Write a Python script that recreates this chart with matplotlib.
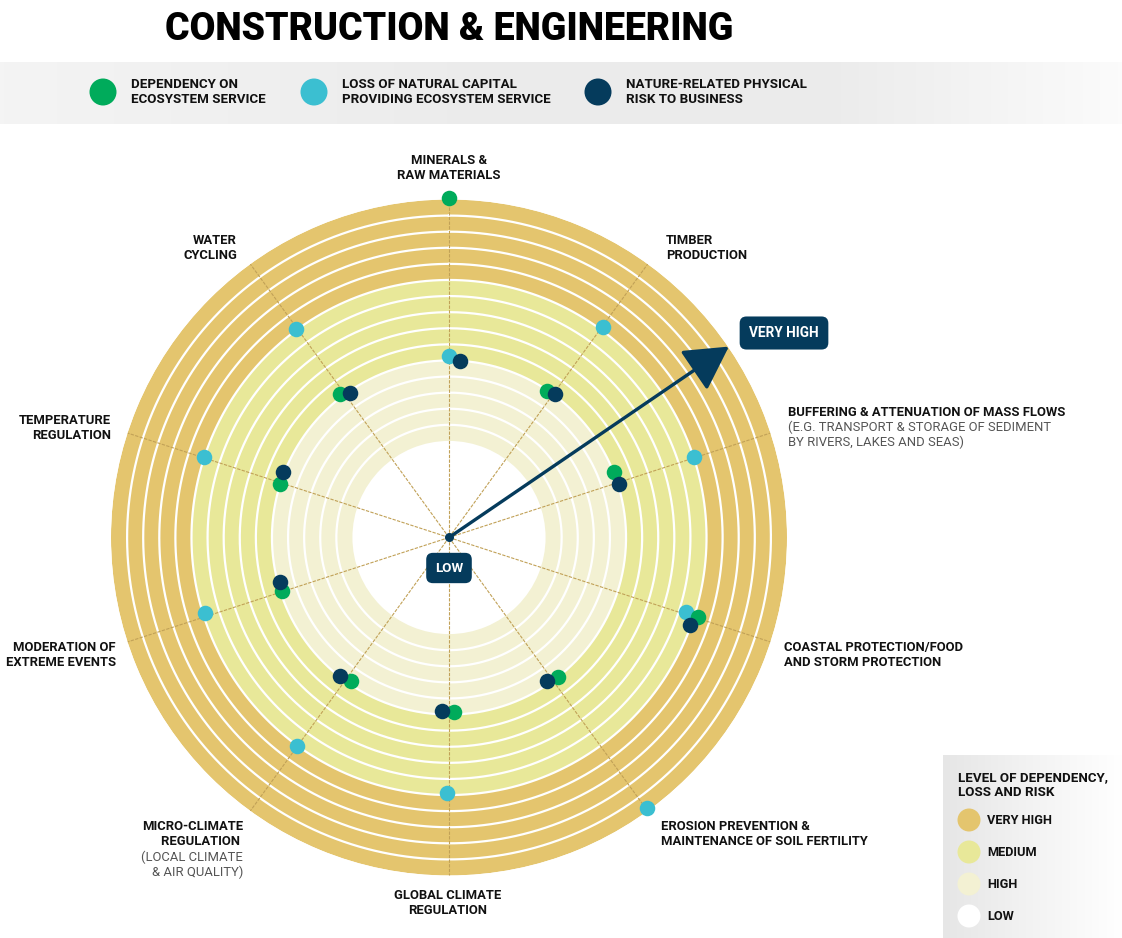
import numpy as np
import matplotlib
matplotlib.use("Agg")
import matplotlib.pyplot as plt
from matplotlib.colors import LinearSegmentedColormap
from matplotlib.patches import Circle

plt.rcParams['font.family'] = ['Roboto', 'DejaVu Sans']

W, H = 1122, 938

# services, clockwise from the top
categories = ["MINERALS & RAW MATERIALS", "TIMBER PRODUCTION",
              "BUFFERING & ATTENUATION OF MASS FLOWS", "COASTAL PROTECTION",
              "EROSION PREVENTION", "GLOBAL CLIMATE REGULATION",
              "MICRO-CLIMATE REGULATION", "MODERATION OF EXTREME EVENTS",
              "TEMPERATURE REGULATION", "WATER CYCLING"]

# level on a 0..21 ring scale (6 = edge of LOW, 21 = outer edge)
dependency = [21.1, 10.95, 11.0, 16.25, 11.0, 10.85, 10.8, 10.9, 11.0, 11.2]
loss = [11.26, 16.2, 16.0, 15.46, 20.8, 15.9, 16.0, 15.9, 16.0, 16.1]
risk = [11.0, 11.1, 11.08, 15.9, 10.8, 10.8, 10.94, 10.83, 11.1, 10.9]
# small angular nudges (deg) so overlapping dots stay visible
dependency_nudge = [0, -2.1, -3.7, -0.4, -1.9, -1.5, -1.6, 0.3, -0.4, -1.1]
loss_nudge = [-0.1, 0.3, -0.2, -0.5, -0.2, 0.5, 0.1, 0.8, 0.1, -0.3]
risk_nudge = [3.6, 0.5, 0.4, 1.9, 1.6, 2.4, 2.2, 3.3, 3.4, 1.7]

# zones: (inner, outer, colour)
zone_names = ["VERY HIGH", "MEDIUM", "HIGH", "LOW"]
zone_edges = [(16, 21), (11, 16), (6, 11), (0, 6)]
zone_colors = ["#e4c56e", "#e8e899", "#f3f1d3", "#ffffff"]

GREEN, CYAN, NAVY = "#00ab5b", "#3bbfd1", "#053b5c"
SPOKE = "#c1a157"

fig = plt.figure(figsize=(W / 100, H / 100), dpi=100)

# ---- polar chart
cx, cy, R = 449, 537.5, 338
ax = fig.add_axes([(cx - R) / W, 1 - (cy + R) / H, 2 * R / W, 2 * R / H],
                  projection='polar', zorder=2)
ax.set_theta_zero_location('N')
ax.set_theta_direction(-1)
ax.set_ylim(0, 21)
ax.axis('off')

for (r0, r1), c in zip(zone_edges[:3], zone_colors[:3]):
    ax.bar(0, r1 - r0, width=2 * np.pi, bottom=r0, color=c, linewidth=0, zorder=1)

tt = np.linspace(0, 2 * np.pi, 500)
for r in range(7, 21):
    ax.plot(tt, np.full_like(tt, r), color='white', lw=1.6, zorder=2)

angles = np.deg2rad(np.arange(len(categories)) * 36)
for a in angles:
    ax.plot([a, a], [0, 21], color=SPOKE, lw=0.8, ls=(0, (3, 1.2)), zorder=3)

for vals, nud, col in [(loss, loss_nudge, CYAN),
                       (dependency, dependency_nudge, GREEN),
                       (risk, risk_nudge, NAVY)]:
    th = angles + np.deg2rad(nud)
    ax.scatter(th, vals, s=125, color=col, linewidths=0, zorder=5, clip_on=False)

ax.annotate("", xy=(np.deg2rad(55.7), 21.05), xytext=(0, 0),
            arrowprops=dict(arrowstyle="-|>,head_length=1.35,head_width=0.75",
                            mutation_scale=20, color=NAVY, lw=2.4,
                            shrinkA=0, shrinkB=0), zorder=6,
            annotation_clip=False)
ax.scatter([0], [0], s=30, color=NAVY, zorder=7)

# ---- top banner
grad_cmap = LinearSegmentedColormap.from_list(
    "band", [(0, "#f4f4f4"), (0.45, "#ebebeb"), (0.75, "#ececec"), (1, "#fbfbfb")])
bx = fig.add_axes([0, 1 - 124 / H, 1, 62 / H], zorder=0)
bx.imshow(np.linspace(0, 1, 256)[None, :], cmap=grad_cmap, aspect='auto',
          extent=[0, 1, 0, 1])
bx.axis('off')

# ---- level legend box
lg_cmap = LinearSegmentedColormap.from_list("lg", ["#e6e6e6", "#f3f3f3", "#ffffff"])
lx = fig.add_axes([943 / W, 0, (W - 943) / W, (H - 755) / H], zorder=0)
lx.imshow(np.linspace(0, 1, 256)[None, :], cmap=lg_cmap, aspect='auto',
          extent=[0, 1, 0, 1])
lx.axis('off')

# ---- overlay for texts and legend markers
ov = fig.add_axes([0, 0, 1, 1], zorder=4)
ov.set_xlim(0, W)
ov.set_ylim(H, 0)
ov.axis('off')

ov.text(449, 30, "CONSTRUCTION & ENGINEERING", ha='center', va='center',
        fontsize=27, fontweight='black', color='black')

series_legend = [("DEPENDENCY ON\nECOSYSTEM SERVICE", GREEN, 103),
                 ("LOSS OF NATURAL CAPITAL\nPROVIDING ECOSYSTEM SERVICE", CYAN, 314),
                 ("NATURE-RELATED PHYSICAL\nRISK TO BUSINESS", NAVY, 598)]
for lab, col, x in series_legend:
    ov.add_patch(Circle((x, 92), 13.5, color=col, lw=0))
    ov.text(x + 28, 92, lab, ha='left', va='center', fontsize=9.6,
            fontweight='bold', color='#111111', linespacing=1.15)

ov.text(958, 785, "LEVEL OF DEPENDENCY,\nLOSS AND RISK", ha='left', va='center',
        fontsize=9.6, fontweight='bold', color='#111111', linespacing=1.15)
for i, (name, col) in enumerate(zip(zone_names, zone_colors)):
    y = 820 + i * 32
    ov.add_patch(Circle((969, y), 11.5, color=col, lw=0))
    ov.text(987, y, name, ha='left', va='center', fontsize=9.2,
            fontweight='bold', color='#111111')

# category labels
lab_kw = dict(fontsize=9.4, fontweight='bold', color='#111111', linespacing=1.15)
sub_kw = dict(fontsize=9.4, color='#555555', linespacing=1.15)
ov.text(449, 168, "MINERALS &\nRAW MATERIALS", ha='center', va='center', **lab_kw)
ov.text(666, 248, "TIMBER\nPRODUCTION", ha='left', va='center', **lab_kw)
ov.text(788, 412, "BUFFERING & ATTENUATION OF MASS FLOWS", ha='left', va='center', **lab_kw)
ov.text(788, 435, "(E.G. TRANSPORT & STORAGE OF SEDIMENT\nBY RIVERS, LAKES AND SEAS)",
        ha='left', va='center', **sub_kw)
ov.text(784, 655, "COASTAL PROTECTION/FOOD\nAND STORM PROTECTION", ha='left', va='center', **lab_kw)
ov.text(661, 834, "EROSION PREVENTION &\nMAINTENANCE OF SOIL FERTILITY", ha='left', va='center', **lab_kw)
ov.text(448, 903, "GLOBAL CLIMATE\nREGULATION", ha='center', va='center', **lab_kw)
ov.text(243, 834, "MICRO-CLIMATE\nREGULATION ", ha='right', va='center', **lab_kw)
ov.text(243, 865, "(LOCAL CLIMATE\n& AIR QUALITY)", ha='right', va='center', **sub_kw)
ov.text(111, 428, "TEMPERATURE\nREGULATION", ha='right', va='center', **lab_kw)
ov.text(116, 655, "MODERATION OF\nEXTREME EVENTS", ha='right', va='center', **lab_kw)
ov.text(237, 248, "WATER\nCYCLING", ha='right', va='center', **lab_kw)

ov.text(449, 568, "LOW", ha='center', va='center', fontsize=9.6, fontweight='bold',
        color='white',
        bbox=dict(boxstyle='round,pad=0.65,rounding_size=0.5', fc=NAVY, ec='none'))
ov.text(784, 333, "VERY HIGH", ha='center', va='center', fontsize=9.8, fontweight='bold',
        color='white',
        bbox=dict(boxstyle='round,pad=0.7,rounding_size=0.5', fc=NAVY, ec='none'))

fig.savefig("out.png", dpi=100)
